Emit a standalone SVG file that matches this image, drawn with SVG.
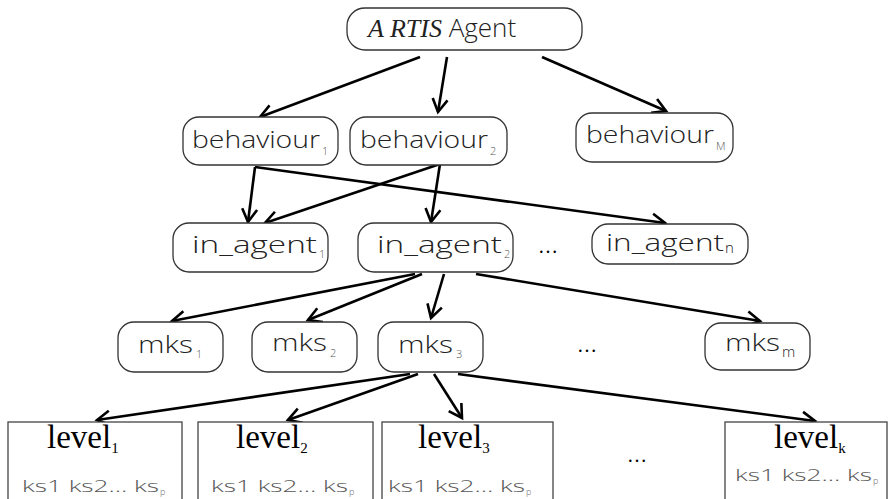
<svg xmlns="http://www.w3.org/2000/svg" width="888" height="499" viewBox="0 0 888 499">
  <style>
    .rbox { fill: #fff; stroke: #333; stroke-width: 1.3; }
    .sbox { fill: #fff; stroke: #444; stroke-width: 1.3; }
    .hand { font-family: "Open Sans", "DejaVu Sans", sans-serif; font-weight: 300; fill: #222; }
    .lbl { font-size: 24px; }
    .sub { font-size: 11px; fill: #555; }
    .ks { font-size: 16px; fill: #555; }
    .ksub { font-size: 9px; fill: #666; }
    .lvl { font-family: "Liberation Serif", "Times New Roman", serif; font-size: 33px; fill: #000; }
    .lsub { font-size: 15px; }
    .dots { font-family: "Liberation Serif", serif; font-size: 20px; fill: #000; }
    .edge { stroke: #000; stroke-width: 2.6; fill: none; marker-end: url(#arrow); }
  </style>
  <defs>
    <marker id="arrow" markerUnits="userSpaceOnUse" markerWidth="18" markerHeight="18" viewBox="0 0 18 18" refX="15" refY="9" orient="auto">
      <path d="M2,1.5 L15,9 L2,16.5" fill="none" stroke="#000" stroke-width="2.6" stroke-linejoin="miter"/>
    </marker>
  </defs>
  <rect width="888" height="499" fill="#fff"/>

  <!-- connectors -->
  <g id="edges">
    <line class="edge" x1="420" y1="57" x2="260" y2="117"/>
    <line class="edge" x1="447" y1="57" x2="438" y2="112"/>
    <line class="edge" x1="542" y1="57" x2="666" y2="111"/>
    <line class="edge" x1="255" y1="167" x2="248" y2="222"/>
    <line class="edge" x1="255" y1="167" x2="665" y2="223"/>
    <line class="edge" x1="440" y1="164" x2="265" y2="223"/>
    <line class="edge" x1="440" y1="164" x2="431" y2="222"/>
    <line class="edge" x1="415" y1="274" x2="172" y2="321"/>
    <line class="edge" x1="422" y1="274" x2="308" y2="320"/>
    <line class="edge" x1="444" y1="274" x2="431" y2="318"/>
    <line class="edge" x1="476" y1="274" x2="760" y2="321"/>
    <line class="edge" x1="410" y1="374" x2="97" y2="420"/>
    <line class="edge" x1="418" y1="374" x2="288" y2="420"/>
    <line class="edge" x1="434" y1="374" x2="462" y2="418"/>
    <line class="edge" x1="458" y1="374" x2="815" y2="421"/>
  </g>

  <!-- root -->
  <g id="artis">
    <rect class="rbox" x="347" y="8" width="235" height="42" rx="18"/>
    <text class="hand" x="368" y="37" font-size="26"><tspan font-family="Liberation Serif, serif" font-style="italic" font-weight="400">A RTIS</tspan> Agent</text>
  </g>

  <!-- behaviours -->
  <g id="behaviour1">
    <rect class="rbox" x="183" y="117" width="155" height="48" rx="16"/>
    <text class="hand lbl" x="192" y="148" textLength="128" lengthAdjust="spacingAndGlyphs">behaviour</text>
    <text class="hand sub" x="322" y="155">1</text>
  </g>
  <g id="behaviour2">
    <rect class="rbox" x="350" y="117" width="157" height="48" rx="16"/>
    <text class="hand lbl" x="360" y="148" textLength="128" lengthAdjust="spacingAndGlyphs">behaviour</text>
    <text class="hand sub" x="490" y="155">2</text>
  </g>
  <g id="behaviourM">
    <rect class="rbox" x="576" y="113" width="157" height="49" rx="16"/>
    <text class="hand lbl" x="586" y="143" textLength="128" lengthAdjust="spacingAndGlyphs">behaviour</text>
    <text class="hand sub" x="716" y="150">M</text>
  </g>

  <!-- in_agents -->
  <g id="in_agent1">
    <rect class="rbox" x="173" y="223" width="155" height="49" rx="16"/>
    <text class="hand lbl" x="192" y="253" textLength="125" lengthAdjust="spacingAndGlyphs">in_agent</text>
    <text class="hand sub" x="319" y="258">1</text>
  </g>
  <g id="in_agent2">
    <rect class="rbox" x="358" y="223" width="155" height="49" rx="16"/>
    <text class="hand lbl" x="377" y="253" textLength="125" lengthAdjust="spacingAndGlyphs">in_agent</text>
    <text class="hand sub" x="504" y="258">2</text>
  </g>
  <text class="dots" x="538" y="253">…</text>
  <g id="in_agentn">
    <rect class="rbox" x="592" y="224" width="156" height="40" rx="16"/>
    <text class="hand lbl" x="606" y="251" textLength="118" lengthAdjust="spacingAndGlyphs">in_agent</text>
    <text class="hand" x="725" y="253" font-size="15">n</text>
  </g>

  <!-- mks -->
  <g id="mks1">
    <rect class="rbox" x="118" y="322" width="105" height="50" rx="16"/>
    <text class="hand lbl" x="138" y="353" textLength="55" lengthAdjust="spacingAndGlyphs">mks</text>
    <text class="hand sub" x="196" y="358">1</text>
  </g>
  <g id="mks2">
    <rect class="rbox" x="252" y="322" width="105" height="50" rx="16"/>
    <text class="hand lbl" x="272" y="351" textLength="55" lengthAdjust="spacingAndGlyphs">mks</text>
    <text class="hand sub" x="330" y="357">2</text>
  </g>
  <g id="mks3">
    <rect class="rbox" x="378" y="322" width="105" height="50" rx="16"/>
    <text class="hand lbl" x="398" y="353" textLength="55" lengthAdjust="spacingAndGlyphs">mks</text>
    <text class="hand sub" x="456" y="358">3</text>
  </g>
  <text class="dots" x="577" y="352">…</text>
  <g id="mksm">
    <rect class="rbox" x="705" y="323" width="105" height="47" rx="16"/>
    <text class="hand lbl" x="725" y="351" textLength="55" lengthAdjust="spacingAndGlyphs">mks</text>
    <text class="hand" x="782" y="357" font-size="15">m</text>
  </g>

  <!-- levels -->
  <g id="level1">
    <rect class="sbox" x="8" y="422" width="174" height="78"/>
    <text class="lvl" x="47" y="448">level<tspan class="lsub" dy="5">1</tspan></text>
    <text class="hand ks" x="22" y="492" textLength="137" lengthAdjust="spacingAndGlyphs">ks1 ks2… ks</text>
    <text class="hand ksub" x="160" y="495">p</text>
  </g>
  <g id="level2">
    <rect class="sbox" x="198" y="422" width="175" height="78"/>
    <text class="lvl" x="236" y="448">level<tspan class="lsub" dy="5">2</tspan></text>
    <text class="hand ks" x="211" y="492" textLength="137" lengthAdjust="spacingAndGlyphs">ks1 ks2… ks</text>
    <text class="hand ksub" x="349" y="495">p</text>
  </g>
  <g id="level3">
    <rect class="sbox" x="382" y="422" width="171" height="78"/>
    <text class="lvl" x="418" y="448">level<tspan class="lsub" dy="5">3</tspan></text>
    <text class="hand ks" x="388" y="492" textLength="137" lengthAdjust="spacingAndGlyphs">ks1 ks2… ks</text>
    <text class="hand ksub" x="526" y="495">p</text>
  </g>
  <text class="dots" x="627" y="462">…</text>
  <g id="levelk">
    <rect class="sbox" x="725" y="422" width="162" height="78"/>
    <text class="lvl" x="774" y="448">level<tspan class="lsub" dy="5">k</tspan></text>
    <text class="hand ks" x="735" y="481" textLength="137" lengthAdjust="spacingAndGlyphs">ks1 ks2… ks</text>
    <text class="hand ksub" x="873" y="484">p</text>
  </g>
</svg>
